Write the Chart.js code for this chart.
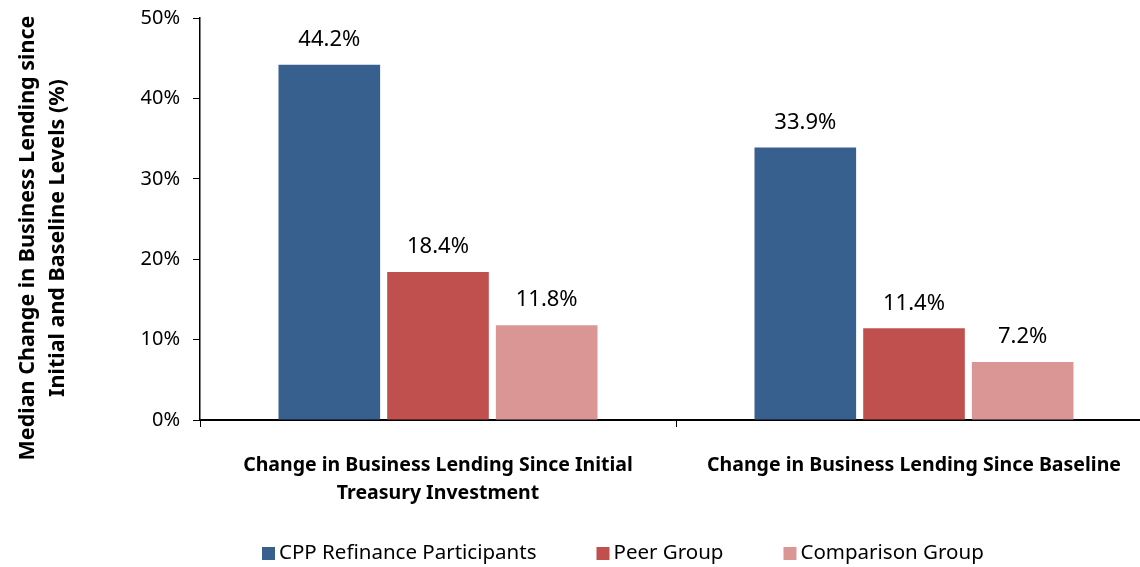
<!DOCTYPE html>
<html>
<head>
<meta charset="utf-8">
<script src="https://cdn.jsdelivr.net/npm/chart.js@4"></script>
<style>
  html, body { margin: 0; padding: 0; background: #fff; overflow: hidden; }
  #wrap { width: 1140px; height: 567px; overflow: hidden; }
</style>
</head>
<body>
<div id="wrap"><canvas id="lendingChart" width="1152" height="567"></canvas></div>
<script>
// --- data ---
const categories = [
    ['Change in Business Lending Since Initial', 'Treasury Investment'],
    'Change in Business Lending Since Baseline'
];
const cppRefinance = [44.2, 33.9];
const peerGroup = [18.4, 11.4];
const comparisonGroup = [11.8, 7.2];
const seriesNames = ['CPP Refinance Participants', 'Peer Group', 'Comparison Group'];
const seriesColors = ['#37608f', '#c0504d', '#da9694'];
const yTicks = [0, 10, 20, 30, 40, 50];
const yTitle = ['Median Change in Business Lending since', 'Initial and Baseline Levels (%)'];

const FONT = "'Noto Sans', sans-serif";

// value labels above each bar
const barLabels = {
    id: 'barLabels',
    afterDatasetsDraw(chart) {
        const ctx = chart.ctx;
        ctx.save();
        ctx.font = '22px ' + FONT;
        ctx.fillStyle = '#000';
        ctx.textAlign = 'center';
        ctx.textBaseline = 'middle';
        chart.data.datasets.forEach((ds, i) => {
            chart.getDatasetMeta(i).data.forEach((bar, j) => {
                ctx.fillText(ds.data[j].toFixed(1) + '%', bar.x, bar.y - 25);
            });
        });
        ctx.restore();
    }
};

// rotated y title, placed like the original (a bit below the plot centre)
const yAxisTitle = {
    id: 'yAxisTitle',
    afterDraw(chart) {
        const ctx = chart.ctx;
        ctx.save();
        ctx.font = 'bold 21.5px ' + FONT;
        ctx.fillStyle = '#000';
        ctx.textAlign = 'center';
        ctx.textBaseline = 'middle';
        ctx.translate(28, 238);
        ctx.rotate(-Math.PI / 2);
        ctx.fillText(yTitle[0], 0, 0);
        ctx.fillText(yTitle[1], 0, 30);
        ctx.restore();
    }
};

// legend drawn along the bottom, Excel style
const bottomLegend = {
    id: 'bottomLegend',
    afterDraw(chart) {
        const ctx = chart.ctx;
        ctx.save();
        ctx.font = '20.5px ' + FONT;
        ctx.textBaseline = 'middle';
        let x = 262;
        const y = 553;
        chart.data.datasets.forEach(ds => {
            ctx.fillStyle = ds.backgroundColor;
            ctx.fillRect(x, y - 6, 13, 13);
            ctx.fillStyle = '#000';
            ctx.fillText(ds.label, x + 17, y);
            x += 17 + ctx.measureText(ds.label).width + 60;
        });
        ctx.restore();
    }
};

const ctx = document.getElementById('lendingChart').getContext('2d');
const lendingChart = new Chart(ctx, {
    type: 'bar',
    data: {
        labels: categories,
        datasets: [
            { label: seriesNames[0], data: cppRefinance, backgroundColor: seriesColors[0] },
            { label: seriesNames[1], data: peerGroup, backgroundColor: seriesColors[1] },
            { label: seriesNames[2], data: comparisonGroup, backgroundColor: seriesColors[2] }
        ]
    },
    options: {
        responsive: false,
        animation: false,
        categoryPercentage: 0.685,
        barPercentage: 0.935,
        layout: { padding: { top: 18, right: 0, bottom: 0, left: 0 } },
        plugins: {
            legend: { display: false },
            tooltip: { enabled: false }
        },
        scales: {
            x: {
                grid: { drawOnChartArea: false, drawTicks: true, tickLength: 7, color: '#000', lineWidth: 1 },
                border: { display: true, color: '#000', width: 2 },
                ticks: {
                    color: '#000',
                    font: { family: FONT, size: 19.5, weight: 'bold', lineHeight: 1.44 },
                    padding: 24,
                    maxRotation: 0,
                    autoSkip: false
                },
                afterFit: s => { s.height = 147; }
            },
            y: {
                min: 0,
                max: 50,
                afterBuildTicks: s => { s.ticks = yTicks.map(v => ({ value: v })); },
                grid: { drawOnChartArea: false, drawTicks: true, tickLength: 7, color: '#000' },
                border: { display: true, color: '#000', width: 1.5 },
                ticks: {
                    color: '#000',
                    font: { family: FONT, size: 20 },
                    padding: 13,
                    callback: v => v + '%'
                },
                afterFit: s => {
                    s.width = 200;
                    s.paddingTop = 0;
                    s.paddingBottom = 0;
                }
            }
        }
    },
    plugins: [barLabels, yAxisTitle, bottomLegend]
});
</script>
</body>
</html>
